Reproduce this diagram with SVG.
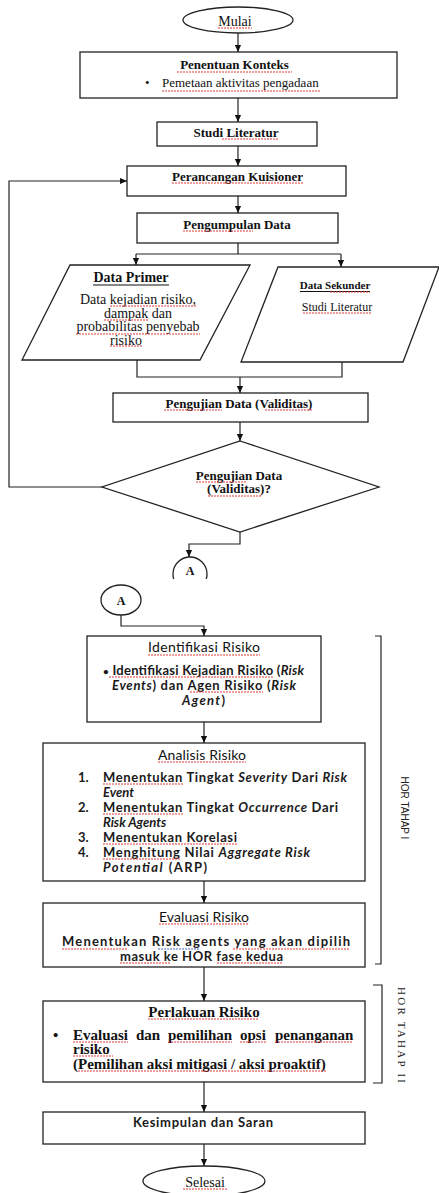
<svg xmlns="http://www.w3.org/2000/svg" width="439" height="1193" viewBox="0 0 439 1193">
<defs>
<marker id="ah" viewBox="0 0 8 8" refX="8" refY="4" markerWidth="7" markerHeight="7" markerUnits="userSpaceOnUse" orient="auto"><path d="M0,0.5 L8,4 L0,7.5 z" fill="#111"/></marker>
<clipPath id="cA"><rect x="150" y="540" width="80" height="39"/></clipPath>
<style>
.bx{fill:#fff;stroke:#222;stroke-width:1.3}
.ln{fill:none;stroke:#222;stroke-width:1.2}
.ar{fill:none;stroke:#222;stroke-width:1.2;marker-end:url(#ah)}
.ul{fill:none;stroke:#111;stroke-width:1}
.tr{font-family:"Liberation Serif","Times New Roman",serif;fill:#111}
.tb{font-family:"Liberation Serif","Times New Roman",serif;font-weight:bold;fill:#111}
.cb{font-family:Lato,"Open Sans",sans-serif;font-weight:bold;font-size:13px;fill:#1a1a1a}
.cr{font-family:Lato,"Open Sans",sans-serif;font-size:14px;fill:#111}
.hs{font-family:"Liberation Sans",Arial,sans-serif;font-size:10px;fill:#222}
.hr{font-family:"Liberation Serif","Times New Roman",serif;font-size:11px;fill:#222}
.it{font-style:italic}
.sq{fill:none;stroke:#e03a3a;stroke-width:1.1;stroke-dasharray:2 1}
.bl{fill:none;stroke:#4a6fc4;stroke-width:1.1;stroke-dasharray:2 1}
</style>
</defs>

<g id="mulai">
<ellipse class="bx" cx="238" cy="20" rx="55" ry="13"/>
<text class="tr" x="235" y="26" font-size="14" text-anchor="middle">Mulai</text>
</g>
<g id="penentuan-konteks">
<rect class="bx" x="80" y="52" width="317" height="46"/>
<text class="tb" x="234.5" y="69" font-size="13" text-anchor="middle">Penentuan Konteks</text>
<text class="tr" x="145" y="87" font-size="13">•</text>
<text class="tr" x="162" y="87" font-size="13">Pemetaan aktivitas pengadaan</text>
</g>
<g id="studi-literatur">
<rect class="bx" x="157" y="122" width="160" height="24"/>
<text class="tb" x="236" y="137" font-size="13" text-anchor="middle">Studi Literatur</text>
</g>
<g id="perancangan-kuisioner">
<rect class="bx" x="127" y="166" width="219" height="30"/>
<text class="tb" x="237.5" y="181" font-size="13" text-anchor="middle">Perancangan Kuisioner</text>
</g>
<g id="pengumpulan-data">
<rect class="bx" x="137" y="213" width="201" height="30"/>
<text class="tb" x="237" y="229" font-size="13" text-anchor="middle">Pengumpulan Data</text>
</g>
<g id="data-primer">
<polygon class="bx" points="70,265 250,265 200,360 22,360"/>
<text class="tb" x="131" y="282" font-size="14" text-anchor="middle">Data Primer</text>
<line class="ul" x1="93" y1="285" x2="169" y2="285"/>
<text class="tr" x="138" y="304" font-size="14" text-anchor="middle">Data kejadian risiko,</text>
<text class="tr" x="138" y="317.5" font-size="14" text-anchor="middle">dampak dan</text>
<text class="tr" x="138" y="331" font-size="14" text-anchor="middle">probabilitas penyebab</text>
<text class="tr" x="110" y="344.5" font-size="14">risiko</text>
</g>
<g id="data-sekunder">
<polygon class="bx" points="278,267 439,267 403,362 241,362"/>
<text class="tb" x="335" y="289" font-size="11" text-anchor="middle">Data Sekunder</text>
<line class="ul" x1="300" y1="291.5" x2="370" y2="291.5"/>
<text class="tr" x="337" y="311" font-size="12" text-anchor="middle">Studi Literatur</text>
</g>
<g id="pengujian-data">
<rect class="bx" x="113" y="393" width="255" height="29"/>
<text class="tb" x="239" y="408" font-size="13" text-anchor="middle">Pengujian Data (Validitas)</text>
</g>
<g id="keputusan-validitas">
<polygon class="bx" points="240,441 379,487 240,532 102,487"/>
<text class="tb" x="239" y="480" font-size="13" text-anchor="middle">Pengujian Data</text>
<text class="tb" x="239" y="493" font-size="13" text-anchor="middle">(Validitas)?</text>
</g>
<g id="konektor-a-1" clip-path="url(#cA)">
<circle class="bx" cx="190" cy="574" r="17"/>
<text class="tb" x="190" y="575" font-size="12" text-anchor="middle">A</text>
</g>
<g id="konektor-a-2">
<ellipse class="bx" cx="121" cy="600" rx="20" ry="15"/>
<text class="tb" x="121" y="605" font-size="12" text-anchor="middle">A</text>
</g>
<g id="identifikasi-risiko">
<rect class="bx" x="87" y="636" width="234" height="86"/>
<text class="cr" x="148" y="652" textLength="112">Identifikasi Risiko</text>
<text class="cb" x="103" y="675" textLength="201"><tspan font-size="10">•</tspan> Identifikasi Kejadian Risiko (<tspan class="it">Risk</tspan></text>
<text class="cb" x="112" y="690" textLength="184"><tspan class="it">Events</tspan>) dan Agen Risiko (<tspan class="it">Risk</tspan></text>
<text class="cb" x="182" y="705" textLength="43"><tspan class="it">Agent</tspan>)</text>
</g>
<g id="analisis-risiko">
<rect class="bx" x="43" y="743" width="322" height="138"/>
<text class="cr" x="158" y="760" textLength="88">Analisis Risiko</text>
<text class="cb" x="78" y="782">1.</text>
<text class="cb" x="103" y="782" textLength="244">Menentukan Tingkat <tspan class="it">Severity</tspan> Dari <tspan class="it">Risk</tspan></text>
<text class="cb it" x="103" y="797">Event</text>
<text class="cb" x="78" y="812">2.</text>
<text class="cb" x="103" y="812" textLength="235">Menentukan Tingkat <tspan class="it">Occurrence</tspan> Dari</text>
<text class="cb it" x="103" y="827">Risk Agents</text>
<text class="cb" x="78" y="842">3.</text>
<text class="cb" x="103" y="842" textLength="134">Menentukan Korelasi</text>
<text class="cb" x="78" y="857">4.</text>
<text class="cb" x="103" y="857" textLength="207">Menghitung Nilai <tspan class="it">Aggregate Risk</tspan></text>
<text class="cb" x="103" y="872" textLength="104"><tspan class="it">Potential</tspan> (ARP)</text>
</g>
<g id="evaluasi-risiko">
<rect class="bx" x="43" y="903" width="322" height="64"/>
<text class="cr" x="159" y="922" textLength="90">Evaluasi Risiko</text>
<text class="cb" x="62" y="946" textLength="288">Menentukan Risk agents yang akan dipilih</text>
<text class="cb" x="120" y="961" textLength="163">masuk ke HOR fase kedua</text>
</g>
<g id="perlakuan-risiko">
<rect class="bx" x="43" y="1001" width="322" height="81"/>
<text class="tb" x="204" y="1017" font-size="15" text-anchor="middle">Perlakuan Risiko</text>
<text class="tb" x="53" y="1040" font-size="15">•</text>
<text class="tb" y="1040" font-size="15"><tspan x="73">Evaluasi</tspan><tspan x="136">dan</tspan><tspan x="168">pemilihan</tspan><tspan x="240">opsi</tspan><tspan x="275">penanganan</tspan></text>
<text class="tb" x="73" y="1054" font-size="15">risiko</text>
<text class="tb" x="73" y="1069" font-size="15">(Pemilihan aksi mitigasi / aksi proaktif)</text>
</g>
<g id="kesimpulan-saran">
<rect class="bx" x="43" y="1112" width="322" height="32"/>
<text class="cb" x="133" y="1127" textLength="140">Kesimpulan dan Saran</text>
</g>
<g id="selesai">
<ellipse class="bx" cx="204" cy="1181" rx="61" ry="15"/>
<text class="tr" x="205" y="1187" font-size="14" text-anchor="middle">Selesai</text>
</g>
<g id="hor-tahap-1">
<path class="ln" d="M375,636 H381 V964 H375"/>
<text class="hs" transform="translate(401,808) rotate(90)" text-anchor="middle">HOR TAHAP I</text>
</g>
<g id="hor-tahap-2">
<path class="ln" d="M373,985 H382 V1083 H373"/>
<text class="hr" transform="translate(398,987) rotate(90)" x="0" y="0" textLength="96">HOR TAHAP II</text>
</g>

<g id="connectors">
<path class="ar" d="M238,33 V52"/>
<path class="ar" d="M238,98 V122"/>
<path class="ar" d="M238,146 V166"/>
<path class="ar" d="M238,196 V213"/>
<path class="ln" d="M238,243 V254 M136,254 H341"/>
<path class="ar" d="M136,254 V265"/>
<path class="ar" d="M341,254 V267"/>
<path class="ln" d="M137,360 V377 H342 V362"/>
<path class="ar" d="M240,377 V393"/>
<path class="ar" d="M240,422 V441"/>
<path class="ar" d="M102,487 H9 V181 H127"/>
<path class="ar" d="M240,532 V544 H189 V557"/>
<path class="ar" d="M121,615 V626 H204 V636"/>
<path class="ar" d="M204,722 V743"/>
<path class="ar" d="M204,881 V903"/>
<path class="ar" d="M204,967 V1001"/>
<path class="ar" d="M204,1082 V1112"/>
<path class="ar" d="M204,1144 V1166"/>
</g>

<g id="spelling-marks">
<path class="sq" d="M218,28H252 M177,72H292 M162,91H320 M222,139H279 M172,183H303 M183,231H253 M110,306H197 M104,320H148 M76,334H200 M110,346H142 M330,292H370 M303,313H372 M164,410H222 M265,410H312 M196,482H247 M208,496H262 M148,655H260 M109,677H273 M190,692H263 M158,762H246 M103,784H184 M103,814H184 M103,844H237 M103,859H181 M159,924H249 M62,949H128 M233,949H350 M120,963H170 M217,963H283 M148,1019H259 M73,1042H128 M168,1042H232 M240,1042H266 M275,1042H353 M73,1056H113 M78,1071H326 M183,1189H227"/>
<path class="bl" d="M158,949H200"/>
</g>
</svg>
